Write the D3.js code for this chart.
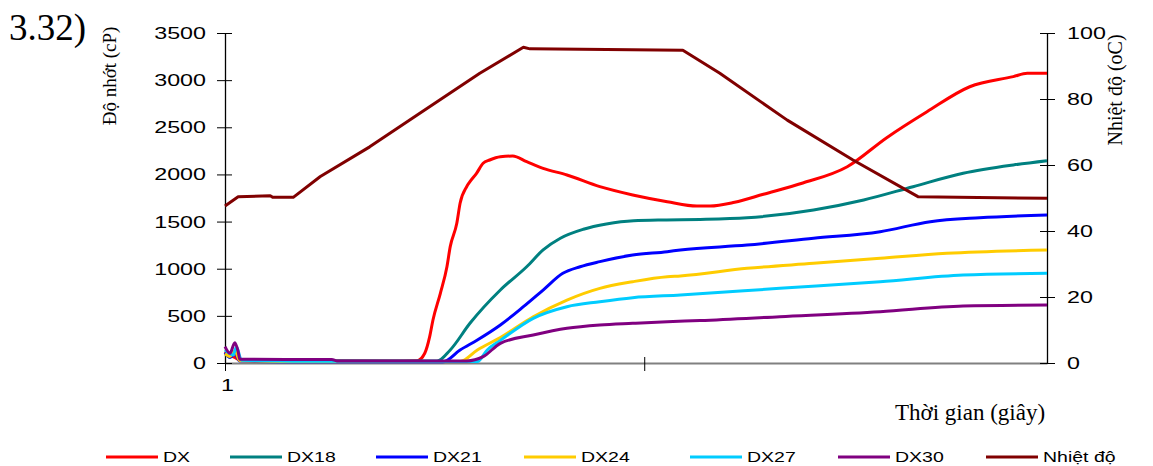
<!DOCTYPE html>
<html>
<head>
<meta charset="utf-8">
<script src="https://cdn.jsdelivr.net/npm/d3@7"></script>
<style>
  body { margin: 0; background: #fff; }
  svg { display: block; }
</style>
</head>
<body>
<div id="svg-container"></div>
<script>
// series as [time index, value] pairs
var dx = [[0,120],[0.6,80],[1.2,60],[1.8,30],[10,25],[20,20],[23.4,25],[24.3,103],[24.9,279],[25.3,456],[26.2,739],
  [27.0,1021],[27.4,1234],[28.2,1482],[28.6,1694],[29.4,1870],[29.8,1923],[30.6,2012],[31.4,2118],[32.2,2153],
  [33.5,2188],[35.0,2195],[36.7,2135],[38.7,2065],[41.6,1994],[45.6,1870],[49.6,1782],[53.8,1711],[57.4,1665],
  [59.0,1665],[62.0,1705],[65.5,1790],[70.3,1909],[75.7,2082],[80.5,2390],[85.4,2665],[90.6,2930],
  [95.9,3037],[97.6,3072],[100,3072]];
var dx18 = [[0,100],[0.6,60],[1.2,120],[1.8,30],[12,20],[25.8,20],[27.4,138],[29.8,421],[33.5,774],[36.7,1021],
  [38.7,1199],[40.8,1323],[43.6,1418],[46.4,1474],[49.7,1509],[53.7,1517],[57.8,1522],[63.5,1540],[71.6,1623],
  [77.7,1729],[83.7,1870],[89.8,2012],[95.9,2100],[100,2145]];
var dx21 = [[0,110],[0.6,60],[1.2,100],[1.8,20],[10,12],[26.5,12],[28.6,138],[30.7,244],[33.5,403],[36.3,597],
  [38.7,774],[41.1,951],[43.2,1021],[45.6,1075],[49.6,1145],[53.8,1181],[55.4,1199],[63.5,1251],[71.6,1323],
  [79.7,1393],[85.8,1499],[91.8,1541],[100,1570]];
var dx24 = [[0,100],[0.6,70],[1.2,130],[1.8,25],[10,15],[28.6,15],[30.7,138],[33.5,270],[37.5,491],[41.6,668],
  [45.6,792],[49.6,862],[53.8,915],[55.4,923],[63.5,1004],[71.6,1057],[79.7,1110],[87.8,1163],[100,1199]];
var dx27 = [[0,138],[1,85],[1.4,170],[2,30],[10,18],[30.7,15],[31.9,138],[33.5,240],[37.5,474],[41.6,597],
  [45.6,650],[49.6,693],[55.4,721],[67.5,792],[79.7,862],[89.8,933],[100,951]];
var dx30 = [[0,173],[0.6,103],[1.2,215],[1.6,120],[1.8,39],[13,37],[13.6,22],[29.4,22],[31.4,67],[33.5,209],
  [37.5,297],[41.6,368],[45.6,403],[49.6,421],[53.8,438],[57.8,450],[67.5,491],[79.7,544],[89.8,605],[100,615]];
var temp = [[0,47.6],[1.6,50.4],[5.5,50.7],[5.8,50.2],[8.3,50.2],[11.6,56.5],[17.6,65.5],[23.7,75.7],[31,87.8],
  [36.3,95.7],[37.1,95.2],[55.7,94.8],[60.2,87.8],[68.4,73.6],[76.4,61.5],[84.3,50.4],[100,49.9]];

var seriesNames = ["DX", "DX18", "DX21", "DX24", "DX27", "DX30", "Nhiệt độ"];
var seriesColors = ["#ff0000", "#008080", "#0000ff", "#ffcc00", "#00ccff", "#800080", "#800000"];
var leftTicks = [0, 500, 1000, 1500, 2000, 2500, 3000, 3500];
var rightTicks = [0, 20, 40, 60, 80, 100];
var xTicks = [0, 51];
var xTickLabels = ["1", ""];

var width = 1153, height = 466;
var margin = { top: 33, right: 106, bottom: 103, left: 225 };
var innerW = width - margin.left - margin.right;
var innerH = height - margin.top - margin.bottom;
var stretch = 1.37;   // axis digits are drawn wide in the original

var root = d3.select("#svg-container").append("svg")
  .attr("width", width).attr("height", height);

var svg = root.append("g")
  .attr("transform", "translate(" + margin.left + "," + margin.top + ")");

var scaleX = d3.scaleLinear().domain([0, 100]).range([0, innerW]);
var scaleY = d3.scaleLinear().domain([0, 3500]).range([innerH, 0]);
var scaleT = d3.scaleLinear().domain([0, 100]).range([innerH, 0]);

// x axis (grey line, crossing ticks)
var xAxis = svg.append("g")
  .attr("transform", "translate(0," + innerH + ")")
  .call(d3.axisBottom(scaleX).tickValues(xTicks).tickSizeOuter(0)
    .tickFormat(function(d, i) { return xTickLabels[i]; }));
xAxis.select(".domain").attr("stroke", "#808080").attr("stroke-width", 2);
xAxis.selectAll(".tick line").attr("y1", -6).attr("y2", 8).attr("stroke", "#000");
xAxis.selectAll(".tick text").attr("y", 16)
  .attr("font-family", "Liberation Sans, Arial").attr("font-size", 17)
  .attr("x", 2 / stretch).attr("transform", "scale(" + stretch + ",1)");

// left axis
var yAxis = svg.append("g")
  .call(d3.axisLeft(scaleY).tickValues(leftTicks).tickSizeOuter(0).tickFormat(d3.format("d")));
yAxis.select(".domain").attr("stroke", "#000").attr("stroke-width", 1.3);
yAxis.selectAll(".tick line").attr("x1", 7).attr("x2", -8).attr("stroke", "#000");
yAxis.selectAll(".tick text")
  .attr("font-family", "Liberation Sans, Arial").attr("font-size", 17).attr("fill", "#000")
  .attr("x", -19 / stretch).attr("transform", "scale(" + stretch + ",1)");

// right axis
var tAxis = svg.append("g")
  .attr("transform", "translate(" + innerW + ",0)")
  .call(d3.axisRight(scaleT).tickValues(rightTicks).tickSizeOuter(0).tickFormat(d3.format("d")));
tAxis.select(".domain").attr("stroke", "#000").attr("stroke-width", 1.3);
tAxis.selectAll(".tick line").attr("x1", -7).attr("x2", 8).attr("stroke", "#000");
tAxis.selectAll(".tick text")
  .attr("font-family", "Liberation Sans, Arial").attr("font-size", 17).attr("fill", "#000")
  .attr("x", 20 / stretch).attr("transform", "scale(" + stretch + ",1)");

svg.selectAll(".domain").attr("fill", "none");

// lines
var viscLine = d3.line()
  .x(function(d) { return scaleX(d[0]); })
  .y(function(d) { return scaleY(d[1]); })
  .curve(d3.curveMonotoneX);

var tempLine = d3.line()
  .x(function(d) { return scaleX(d[0]); })
  .y(function(d) { return scaleT(d[1]); });

function drawLine(data, color, gen) {
  svg.append("path")
    .datum(data)
    .attr("fill", "none")
    .attr("stroke", color)
    .attr("stroke-width", 3)
    .attr("stroke-linejoin", "round")
    .attr("d", gen);
}

[dx, dx18, dx21, dx24, dx27, dx30].forEach(function(s, i) {
  drawLine(s, seriesColors[i], viscLine);
});
drawLine(temp, seriesColors[6], tempLine);

// titles
root.append("text")
  .attr("x", 9).attr("y", 40)
  .attr("font-family", "Liberation Serif, Times New Roman").attr("font-size", 37)
  .text("3.32)");

root.append("text")
  .attr("transform", "translate(116,76) rotate(-90)")
  .attr("text-anchor", "middle")
  .attr("font-family", "Liberation Serif, Times New Roman").attr("font-size", 19)
  .text("Độ nhớt (cP)");

root.append("text")
  .attr("transform", "translate(1122,90) rotate(-90)")
  .attr("text-anchor", "middle")
  .attr("font-family", "Liberation Serif, Times New Roman").attr("font-size", 20)
  .text("Nhiệt độ (oC)");

root.append("text")
  .attr("x", 895).attr("y", 420)
  .attr("font-family", "Liberation Serif, Times New Roman").attr("font-size", 23)
  .text("Thời gian (giây)");

// legend
var legendX = [106, 230, 376, 524, 690, 838, 986];
var legend = root.append("g");
seriesNames.forEach(function(name, i) {
  var g = legend.append("g").attr("transform", "translate(" + legendX[i] + ",457)");
  g.append("line").attr("x1", 0).attr("x2", 52)
    .attr("stroke", seriesColors[i]).attr("stroke-width", 3);
  g.append("text")
    .attr("transform", "translate(57,5) scale(1.3,1)")
    .attr("font-family", "Liberation Sans, Arial").attr("font-size", 15)
    .text(name);
});
</script>
</body>
</html>
